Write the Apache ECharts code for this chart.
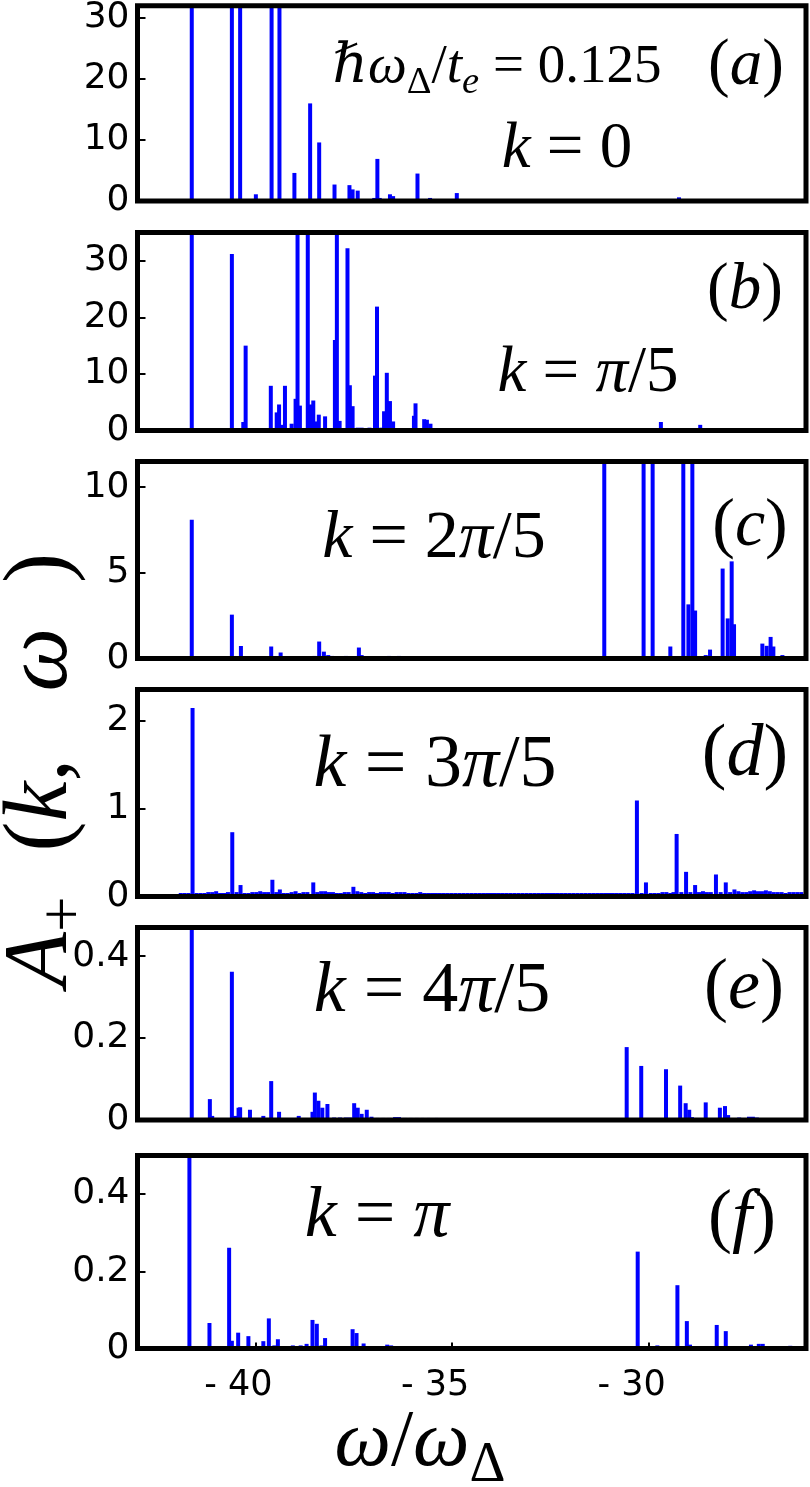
<!DOCTYPE html>
<html>
<head>
<meta charset="utf-8">
<script src="https://cdn.jsdelivr.net/npm/echarts@6/dist/echarts.min.js"></script>
<style>
  html, body { margin: 0; padding: 0; background: #fff; }
  #chart { width: 810px; height: 1487px; }
</style>
</head>
<body>
<div id="chart"></div>
<script>
// spectral peaks [omega / omega_Delta, A_+(k, omega)]
const peaksA = [
  [-41.62, 60], [-40.60, 60], [-40.39, 60], [-39.99, 1.1], [-39.82, 0.3], [-39.59, 60],
  [-39.39, 60], [-39.01, 4.6], [-38.61, 16.0], [-38.38, 9.6], [-37.99, 2.7], [-37.61, 2.6],
  [-37.53, 1.9], [-37.40, 1.7], [-37.10, 0.3], [-36.98, 0.5], [-36.90, 6.9], [-36.84, 0.5],
  [-36.58, 1.1], [-36.50, 0.8], [-36.35, 0.3], [-35.95, 0.3], [-35.88, 4.5], [-35.56, 0.5],
  [-34.88, 1.3], [-34.60, 0.3], [-33.88, 0.2], [-32.85, 0.2], [-29.23, 0.6], [-28.19, 0.2],
  [-27.17, 0.2]
]
const peaksB = [
  [-41.62, 60], [-40.77, 0.2], [-40.60, 31.2], [-40.45, 0.3], [-40.31, 1.5], [-40.25, 15.0],
  [-39.95, 0.2], [-39.80, 0.2], [-39.61, 7.9], [-39.46, 3.2], [-39.40, 4.6], [-39.32, 1.0],
  [-39.25, 7.9], [-39.08, 1.2], [-38.98, 5.6], [-38.93, 60], [-38.87, 4.4], [-38.67, 60],
  [-38.59, 4.6], [-38.53, 5.3], [-38.46, 1.6], [-38.39, 2.8], [-38.23, 2.5], [-38.10, 0.4],
  [-38.05, 0.4], [-37.98, 16.0], [-37.93, 60], [-37.86, 1.7], [-37.66, 32.2], [-37.60, 8.0],
  [-37.53, 4.3], [-37.40, 0.5], [-37.30, 0.5], [-37.20, 0.4], [-37.10, 0.5], [-36.96, 9.7],
  [-36.91, 21.9], [-36.80, 0.5], [-36.73, 3.4], [-36.66, 10.2], [-36.58, 5.2], [-36.50, 1.6],
  [-36.40, 0.3], [-36.30, 0.3], [-36.20, 0.3], [-36.10, 0.3], [-35.97, 2.6], [-35.93, 4.8],
  [-35.80, 0.4], [-35.71, 2.0], [-35.64, 1.9], [-35.55, 1.2], [-35.45, 0.4], [-35.30, 0.3],
  [-35.15, 0.3], [-35.00, 0.3], [-34.85, 0.4], [-34.70, 0.3], [-34.55, 0.3], [-34.40, 0.2],
  [-34.20, 0.2], [-33.90, 0.2], [-29.69, 1.5], [-28.69, 1.0], [-27.70, 0.2]
]
const peaksC = [
  [-41.62, 8.1], [-40.60, 2.56], [-40.37, 0.73], [-39.60, 0.7], [-39.36, 0.35], [-38.70, 0.1],
  [-38.50, 0.15], [-38.38, 0.99], [-38.26, 0.4], [-38.15, 0.2], [-38.05, 0.15], [-37.95, 0.12],
  [-37.80, 0.1], [-37.70, 0.15], [-37.37, 0.64], [-37.30, 0.2], [-37.10, 0.12], [-36.95, 0.1],
  [-36.80, 0.12], [-36.60, 0.15], [-36.50, 0.12], [-36.35, 0.15], [-36.20, 0.12], [-36.00, 0.1],
  [-35.80, 0.1], [-35.60, 0.08], [-35.40, 0.1], [-35.20, 0.08], [-35.00, 0.08], [-34.80, 0.1],
  [-31.13, 20], [-30.13, 20], [-29.90, 20], [-29.45, 0.7], [-29.12, 20], [-28.99, 3.16],
  [-28.89, 20], [-28.82, 2.8], [-28.55, 0.2], [-28.44, 0.52], [-28.12, 5.25], [-27.99, 2.34],
  [-27.89, 5.67], [-27.83, 2.0], [-27.60, 0.1], [-27.45, 0.1], [-27.11, 0.87], [-27.00, 0.74],
  [-26.90, 1.26], [-26.83, 0.7], [-26.60, 0.2], [-26.20, 0.1]
]
const peaksD = [
  [-41.90, 0.04], [-41.80, 0.04], [-41.70, 0.04], [-41.60, 2.14], [-41.50, 0.04], [-41.40, 0.04],
  [-41.30, 0.04], [-41.20, 0.05], [-41.10, 0.05], [-41.00, 0.06], [-40.90, 0.04], [-40.80, 0.04],
  [-40.70, 0.05], [-40.59, 0.73], [-40.48, 0.05], [-40.38, 0.13], [-40.28, 0.04], [-40.18, 0.04],
  [-40.08, 0.05], [-39.98, 0.05], [-39.88, 0.06], [-39.78, 0.05], [-39.68, 0.05], [-39.57, 0.19],
  [-39.47, 0.05], [-39.38, 0.08], [-39.28, 0.04], [-39.18, 0.04], [-39.08, 0.05], [-38.98, 0.06],
  [-38.88, 0.04], [-38.78, 0.05], [-38.68, 0.05], [-38.53, 0.16], [-38.43, 0.05], [-38.33, 0.06],
  [-38.23, 0.06], [-38.13, 0.05], [-38.03, 0.05], [-37.93, 0.04], [-37.83, 0.04], [-37.73, 0.05],
  [-37.63, 0.05], [-37.51, 0.11], [-37.41, 0.06], [-37.31, 0.05], [-37.21, 0.04], [-37.11, 0.05],
  [-37.01, 0.05], [-36.91, 0.04], [-36.81, 0.05], [-36.71, 0.05], [-36.61, 0.05], [-36.51, 0.04],
  [-36.41, 0.05], [-36.31, 0.05], [-36.21, 0.05], [-36.11, 0.04], [-36.01, 0.04], [-35.91, 0.04],
  [-35.81, 0.05], [-35.71, 0.04], [-35.61, 0.04], [-35.51, 0.04], [-35.41, 0.04], [-35.31, 0.04],
  [-35.21, 0.04], [-35.11, 0.04], [-35.01, 0.04], [-34.91, 0.04], [-34.81, 0.04], [-34.71, 0.04],
  [-34.61, 0.04], [-34.51, 0.04], [-34.41, 0.04], [-34.31, 0.04], [-34.21, 0.04], [-34.11, 0.04],
  [-34.01, 0.04], [-33.91, 0.04], [-33.81, 0.04], [-33.71, 0.04], [-33.61, 0.04], [-33.51, 0.04],
  [-33.41, 0.04], [-33.31, 0.04], [-33.21, 0.04], [-33.11, 0.04], [-33.01, 0.04], [-32.91, 0.04],
  [-32.81, 0.04], [-32.71, 0.04], [-32.61, 0.04], [-32.51, 0.04], [-32.41, 0.04], [-32.31, 0.04],
  [-32.21, 0.04], [-32.11, 0.04], [-32.01, 0.04], [-31.91, 0.04], [-31.81, 0.04], [-31.71, 0.04],
  [-31.61, 0.04], [-31.51, 0.04], [-31.41, 0.04], [-31.31, 0.04], [-31.21, 0.04], [-31.11, 0.04],
  [-31.01, 0.04], [-30.91, 0.04], [-30.81, 0.04], [-30.71, 0.04], [-30.61, 0.04], [-30.51, 0.04],
  [-30.41, 0.04], [-30.30, 1.09], [-30.18, 0.04], [-30.07, 0.16], [-29.95, 0.04], [-29.85, 0.04],
  [-29.75, 0.04], [-29.65, 0.05], [-29.55, 0.05], [-29.45, 0.04], [-29.37, 0.05], [-29.29, 0.71],
  [-29.17, 0.05], [-29.05, 0.28], [-28.94, 0.05], [-28.82, 0.13], [-28.72, 0.05], [-28.62, 0.06],
  [-28.52, 0.05], [-28.42, 0.05], [-28.29, 0.25], [-28.17, 0.05], [-28.04, 0.16], [-27.93, 0.05],
  [-27.82, 0.08], [-27.72, 0.06], [-27.62, 0.05], [-27.52, 0.05], [-27.42, 0.06], [-27.32, 0.07],
  [-27.22, 0.06], [-27.12, 0.06], [-27.02, 0.07], [-26.92, 0.06], [-26.82, 0.05], [-26.72, 0.05],
  [-26.62, 0.05], [-26.52, 0.04], [-26.42, 0.05], [-26.32, 0.05], [-26.22, 0.05], [-26.12, 0.05]
]
const peaksE = [
  [-41.62, 1], [-41.16, 0.051], [-41.10, 0.01], [-40.60, 0.362], [-40.52, 0.01], [-40.43, 0.03],
  [-40.39, 0.031], [-40.14, 0.025], [-39.80, 0.01], [-39.60, 0.095], [-39.40, 0.02], [-38.95, 0.005],
  [-38.90, 0.01], [-38.55, 0.02], [-38.49, 0.067], [-38.40, 0.047], [-38.30, 0.03], [-38.17, 0.039],
  [-38.00, 0.006], [-37.85, 0.006], [-37.70, 0.006], [-37.60, 0.006], [-37.49, 0.041], [-37.40, 0.03],
  [-37.30, 0.015], [-37.17, 0.025], [-37.05, 0.008], [-36.90, 0.005], [-36.75, 0.005], [-36.60, 0.005],
  [-36.45, 0.007], [-36.35, 0.007], [-36.20, 0.005], [-36.05, 0.005], [-35.90, 0.005], [-35.75, 0.005],
  [-35.60, 0.005], [-35.40, 0.005], [-35.20, 0.004], [-35.00, 0.004], [-34.80, 0.004], [-30.56, 0.178],
  [-30.19, 0.132], [-29.56, 0.124], [-29.20, 0.084], [-29.06, 0.041], [-28.97, 0.025], [-28.90, 0.007],
  [-28.55, 0.043], [-28.19, 0.03], [-28.06, 0.034], [-27.98, 0.012], [-27.70, 0.006], [-27.45, 0.008],
  [-27.35, 0.008], [-27.25, 0.006], [-26.95, 0.004], [-26.30, 0.004]
]
const peaksF = [
  [-41.68, 1], [-41.17, 0.066], [-40.67, 0.261], [-40.60, 0.02], [-40.44, 0.041], [-40.18, 0.032],
  [-39.85, 0.006], [-39.80, 0.019], [-39.66, 0.078], [-39.52, 0.008], [-39.43, 0.024], [-39.30, 0.006],
  [-39.20, 0.006], [-39.05, 0.008], [-38.95, 0.006], [-38.85, 0.008], [-38.70, 0.012], [-38.55, 0.074],
  [-38.44, 0.064], [-38.32, 0.008], [-38.23, 0.027], [-38.10, 0.004], [-37.95, 0.004], [-37.80, 0.004],
  [-37.65, 0.004], [-37.53, 0.05], [-37.43, 0.04], [-37.25, 0.013], [-37.10, 0.006], [-36.95, 0.005],
  [-36.80, 0.006], [-36.65, 0.01], [-36.55, 0.008], [-36.40, 0.006], [-36.25, 0.006], [-36.10, 0.005],
  [-35.90, 0.004], [-35.70, 0.004], [-35.50, 0.005], [-35.30, 0.004], [-35.10, 0.006], [-30.28, 0.251],
  [-29.78, 0.008], [-29.27, 0.164], [-29.03, 0.071], [-28.95, 0.01], [-28.60, 0.005], [-28.27, 0.061],
  [-28.04, 0.045], [-27.75, 0.005], [-27.40, 0.01], [-27.20, 0.012], [-27.10, 0.012], [-26.40, 0.007]
]

const panelPeaks = [peaksA, peaksB, peaksC, peaksD, peaksE, peaksF]
const yMaxes = [32, 35, 11.5, 2.35, 0.47, 0.5]
const yIntervals = [10, 10, 5, 1, 0.2, 0.2]
const xTickValues = [-40, -35, -30]
const X_MIN = -43
const X_MAX = -26

// panel boxes in page pixels (each panel came from its own figure, so sizes differ a bit)
const panelTops = [4.5, 232.5, 461.5, 689.5, 927.5, 1155.5]
const panelHeights = [196.5, 198, 197, 207, 192.5, 193]

const MATH_FONT = '"Liberation Serif", "DejaVu Serif", serif'
const TICK_FONT = '"DejaVu Sans", sans-serif'

function richStyles(size) {
  const lh = size * 1.25
  return {
    i: { fontFamily: MATH_FONT, fontStyle: 'italic', fontSize: size, lineHeight: lh, fill: '#000' },
    r: { fontFamily: MATH_FONT, fontSize: size, lineHeight: lh, fill: '#000' },
    s: { fontFamily: MATH_FONT, fontStyle: 'italic', fontSize: size * 0.7, lineHeight: size * 0.7, verticalAlign: 'bottom', fill: '#000' },
    sr: { fontFamily: MATH_FONT, fontSize: size * 0.7, lineHeight: size * 0.7, verticalAlign: 'bottom', fill: '#000' }
  }
}

function mathText(x, y, size, text, rotation) {
  return {
    type: 'text',
    x: x,
    y: y,
    z: 30,
    rotation: rotation || 0,
    silent: true,
    style: {
      text: text,
      fontFamily: MATH_FONT,
      fontSize: size,
      fill: '#000',
      align: 'center',
      verticalAlign: 'middle',
      rich: richStyles(size)
    }
  }
}

const annotations = [
  mathText(497, 68, 55, '{i|ℏω}{sr|Δ}{r|/}{i|t}{s|e}{r| = 0.125}'),
  mathText(746, 67, 65, '{r|(}{i|a}{r|)}'),
  mathText(567, 150, 65, '{i|k}{r| = 0}'),
  mathText(745, 291, 65, '{r|(}{i|b}{r|)}'),
  mathText(588, 374, 65, '{i|k}{r| = }{i|π}{r|/5}'),
  mathText(434, 539, 68, '{i|k}{r| = 2}{i|π}{r|/5}'),
  mathText(750, 527, 68, '{r|(}{i|c}{r|)}'),
  mathText(435, 767, 74, '{i|k}{r| = 3}{i|π}{r|/5}'),
  mathText(745, 756, 74, '{r|(}{i|d}{r|)}'),
  mathText(432, 992, 72, '{i|k}{r| = 4}{i|π}{r|/5}'),
  mathText(744, 989, 72, '{r|(}{i|e}{r|)}'),
  mathText(377, 1217, 72, '{i|k}{r| = }{i|π}'),
  mathText(742, 1220, 72, '{r|(}{i|f}{r|)}'),
  // axis titles
  mathText(42, 770, 90, '{i|A}{sr|+}{r|  (}{i|k}{r|,   }{i|ω}{r|  )}', Math.PI / 2),
  mathText(420, 1444, 80, '{i|ω}{r|/}{i|ω}{sr|Δ}')
]

const chart = echarts.init(document.getElementById('chart'), null, { renderer: 'canvas' })

const grids = panelPeaks.map((_, i) => ({
  left: 137.5,
  right: 4,
  top: panelTops[i],
  height: panelHeights[i],
  show: true,
  z: 10,
  backgroundColor: 'transparent',
  borderColor: '#000',
  borderWidth: 5
}))

const xAxes = panelPeaks.map((_, i) => {
  const last = i === panelPeaks.length - 1
  return {
    gridIndex: i,
    type: 'value',
    min: X_MIN,
    max: X_MAX,
    axisLine: { show: false },
    splitLine: { show: false },
    axisTick: {
      show: last,
      inside: true,
      length: 6,
      customValues: xTickValues,
      lineStyle: { color: '#000', width: 2 }
    },
    axisLabel: {
      show: last,
      customValues: xTickValues,
      margin: 20,
      padding: [0, 34, 0, 0],
      color: '#000',
      fontFamily: TICK_FONT,
      fontSize: 35,
      formatter: (v) => (v < 0 ? '- ' + Math.abs(v) : String(v))
    }
  }
})

const yAxes = panelPeaks.map((_, i) => ({
  gridIndex: i,
  type: 'value',
  min: 0,
  max: yMaxes[i],
  interval: yIntervals[i],
  axisLine: { show: false },
  splitLine: { show: false },
  axisTick: { show: true, inside: true, length: 8, lineStyle: { color: '#000', width: 2 } },
  axisLabel: {
    showMaxLabel: false,
    margin: 8,
    color: '#000',
    fontFamily: TICK_FONT,
    fontSize: 36
  }
}))

const series = panelPeaks.map((data, i) => ({
  type: 'bar',
  xAxisIndex: i,
  yAxisIndex: i,
  data: data,
  barWidth: 4,
  clip: true,
  silent: true,
  itemStyle: { color: '#0000ff' }
}))

chart.setOption({
  backgroundColor: '#fff',
  animation: false,
  grid: grids,
  xAxis: xAxes,
  yAxis: yAxes,
  series: series,
  graphic: annotations
})
</script>
</body>
</html>
